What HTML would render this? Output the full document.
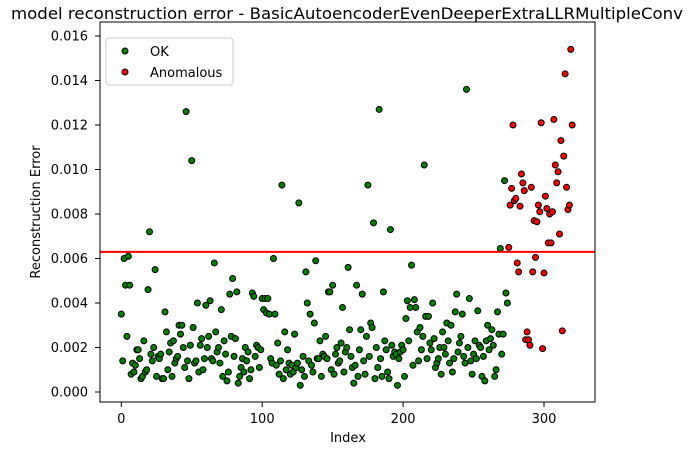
<!DOCTYPE html>
<html><head><meta charset="utf-8"><style>
body{margin:0;background:#fff;}
svg{display:block;font-family:"DejaVu Sans","Liberation Sans",sans-serif;}
</style></head><body>
<svg id="chart" width="693" height="455" viewBox="0 0 693 455" xmlns="http://www.w3.org/2000/svg">
<rect width="693" height="455" fill="#fff"/>
<text x="347" y="19" font-size="16" text-anchor="middle" textLength="672" lengthAdjust="spacingAndGlyphs" fill="#000">model reconstruction error - BasicAutoencoderEvenDeeperExtraLLRMultipleConv</text>
<g id="grid"></g>
<g id="marks"></g>
<rect x="100" y="22" width="495" height="380" fill="none" stroke="#000" stroke-width="1"/>
<text x="348" y="442" font-size="13" text-anchor="middle">Index</text>
<text transform="translate(40,212) rotate(-90)" font-size="13" text-anchor="middle">Reconstruction Error</text>
<g>
<rect x="106" y="38" width="127" height="47" rx="3" fill="#fff" fill-opacity="0.8" stroke="#ccc"/>
<circle cx="125" cy="51" r="3" fill="green" stroke="#000" stroke-width="1"/>
<text x="150" y="56" font-size="13">OK</text>
<circle cx="125" cy="72" r="3" fill="red" stroke="#000" stroke-width="1"/>
<text x="150" y="77" font-size="13">Anomalous</text>
</g>
</svg>
<script>
const okValues = [
3.5,1.4,6.0,4.8,2.5,6.1,4.8,0.8,1.3,0.9,
1.2,1.9,1.9,1.5,0.6,0.7,2.3,0.9,1.0,4.6,
7.2,1.7,1.4,2.0,5.5,0.7,1.6,1.5,1.7,0.6,
0.6,3.6,2.7,1.0,1.8,2.2,0.7,2.3,1.3,1.5,
1.6,3.0,2.6,3.0,2.0,1.1,12.6,1.4,0.6,2.1,
10.4,2.9,1.3,1.4,4.0,0.9,2.1,2.4,1.0,1.5,
3.9,2.0,2.5,4.1,1.5,1.4,5.8,2.7,1.8,2.0,
1.3,3.7,0.7,2.3,1.7,0.5,0.9,4.4,2.5,5.1,
1.6,2.4,4.5,0.4,0.7,1.1,1.5,0.9,2.0,1.4,
1.8,0.6,1.0,4.45,4.3,1.6,2.1,2.0,1.1,1.9,
4.2,3.7,4.2,3.55,4.2,3.5,1.5,1.3,6.0,3.5,
1.2,2.2,0.8,1.4,9.3,0.6,2.7,1.0,1.9,1.3,
0.8,1.2,0.9,2.6,1.1,1.3,8.5,0.3,1.0,1.6,
0.7,5.4,4.0,1.4,3.5,1.2,0.9,3.1,5.9,1.5,
1.5,2.3,0.7,1.7,1.6,2.5,1.5,4.5,4.5,1.0,
4.8,0.8,1.7,2.0,1.3,1.4,2.2,3.8,0.9,1.8,
2.0,5.6,2.8,1.6,1.1,0.4,1.2,4.8,0.7,1.9,
2.8,4.4,1.4,0.8,2.5,9.3,1.6,3.1,2.9,7.6,
0.6,2.0,1.1,12.7,1.5,0.7,4.5,2.3,1.9,0.9,
0.6,7.3,2.1,1.6,1.8,1.7,0.3,1.5,1.8,2.1,
1.9,0.7,3.3,4.1,2.3,3.8,5.7,1.2,4.15,3.8,
2.7,1.4,2.9,1.9,2.5,10.2,3.4,1.5,3.4,2.2,
1.9,4.0,2.4,1.1,1.3,1.5,2.0,0.8,2.7,2.0,
1.7,3.1,2.3,1.3,3.0,0.9,1.5,3.6,4.4,1.8,
2.2,2.5,3.5,1.6,1.3,13.6,2.0,4.2,1.4,0.8,
1.7,2.3,1.5,3.65,2.1,2.0,0.7,1.6,0.5,2.3,
3.0,1.9,2.4,2.8,2.1,0.7,1.0,3.6,2.6,6.45,
1.7,2.6,9.5,4.45,4.0
];
const okStart = 0;
const anomValues = [6.5,8.4,9.15,12.0,8.6,8.7,5.8,5.4,8.35,9.8,9.4,9.05,2.35,2.7,2.35,2.1,9.2,5.4,7.7,6.05,7.65,8.4,8.1,12.1,1.95,5.35,8.8,8.25,6.7,8.0,6.7,8.1,12.25,10.2,9.4,9.9,7.1,11.3,2.75,10.6,14.3,9.2,8.2,8.4,15.4,12.0];
const anomStart = 275;
const threshold = 6.3;
const xTicks = [0,100,200,300];
const yTicks = [0,2,4,6,8,10,12,14,16];
const yTickLabels = ["0.000","0.002","0.004","0.006","0.008","0.010","0.012","0.014","0.016"];

const NS = "http://www.w3.org/2000/svg";
const xs = v => 121.3 + v * (544 - 121.3) / 300;
const ys = v => 392 - v * (392 - 36) / 16;
const grid = document.getElementById('grid');
const marks = document.getElementById('marks');
function mk(tag, attrs, parent){const e=document.createElementNS(NS,tag);for(const k in attrs)e.setAttribute(k,attrs[k]);parent.appendChild(e);return e;}

xTicks.forEach(t=>{
  const l=mk('line',{x1:xs(t),x2:xs(t),y1:402,y2:407,stroke:'#000'},grid);
  
  
  const tx=mk('text',{x:xs(t),y:423,'font-size':13,'text-anchor':'middle'},grid);
  tx.textContent=t;
  
  
});
yTicks.forEach((t,i)=>{
  const l=mk('line',{x1:95,x2:100,y1:ys(t),y2:ys(t),stroke:'#000'},grid);
  
  
  const tx=mk('text',{x:88,y:ys(t)+4.5,'font-size':13,'text-anchor':'end'},grid);
  tx.textContent=yTickLabels[i];
  
  
});
okValues.forEach((v,i)=>{
  const c=mk('circle',{cx:xs(okStart+i),cy:ys(v),r:3,fill:'green',stroke:'#000','stroke-width':1},marks);
  
  
});
anomValues.forEach((v,i)=>{
  const c=mk('circle',{cx:xs(anomStart+i),cy:ys(v),r:3,fill:'red',stroke:'#000','stroke-width':1},marks);
  
  
});
const th=mk('line',{x1:100,x2:595,y1:ys(threshold),y2:ys(threshold),stroke:'red','stroke-width':2},marks);


</script>
</body></html>
